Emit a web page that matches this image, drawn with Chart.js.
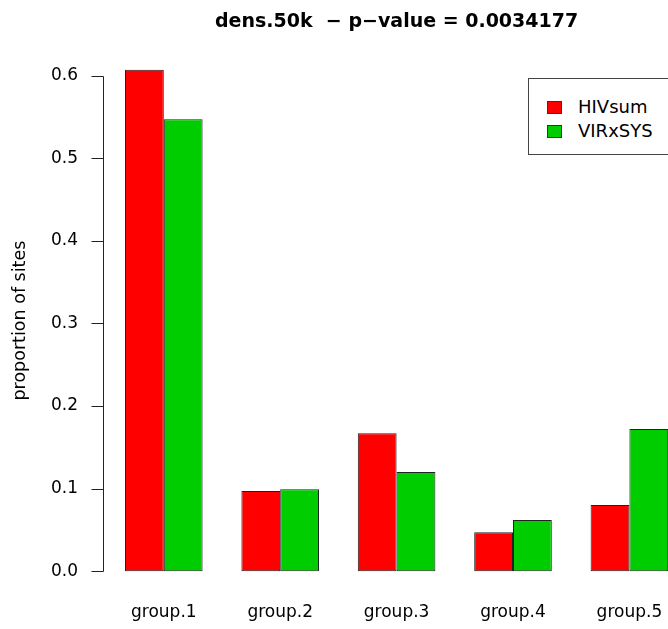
<!DOCTYPE html>
<html>
<head>
<meta charset="utf-8">
<script src="https://cdn.jsdelivr.net/npm/chart.js@4/dist/chart.umd.min.js"></script>
<style>
  html, body { margin: 0; padding: 0; background: #fff; overflow: hidden; }
  #wrap { position: relative; width: 700px; height: 629px; }
  #legend {
    position: absolute; left: 528px; top: 78px; width: 180px; height: 77px;
    border: 1px solid #444; box-sizing: border-box; background: #fff;
    font-family: "DejaVu Sans", sans-serif; font-size: 18px; color: #000;
  }
  #legend .row { position: absolute; left: 0; height: 24px; line-height: 24px; white-space: nowrap; }
  #legend .sw { position: absolute; left: 18px; top: 6px; width: 13px; height: 11px; border: 1px solid #333; }
  #legend .tx { position: absolute; left: 49px; top: 0; }
</style>
</head>
<body>
<div id="wrap">
  <canvas id="c"></canvas>
  <div id="legend"></div>
</div>
<script>
// ---- data ----
const categories = ['group.1', 'group.2', 'group.3', 'group.4', 'group.5'];
const seriesNames = ['HIVsum', 'VIRxSYS'];
const hivsum  = [0.607, 0.097, 0.167, 0.047, 0.080];
const virxsys = [0.547, 0.099, 0.120, 0.062, 0.172];
const yTickValues = [0.0, 0.1, 0.2, 0.3, 0.4, 0.5, 0.6];
const titleText = 'dens.50k  \u2212 p\u2212value = 0.0034177';
const yAxisTitle = 'proportion of sites';
const colors = ['#FF0000', '#00CD00'];

// ---- legend (HTML) ----
const leg = document.getElementById('legend');
seriesNames.forEach((name, i) => {
  const row = document.createElement('div');
  row.className = 'row';
  row.style.top = (16 + i * 24) + 'px';
  const sw = document.createElement('span');
  sw.className = 'sw';
  sw.style.background = colors[i];
  const tx = document.createElement('span');
  tx.className = 'tx';
  tx.textContent = name;
  row.appendChild(sw); row.appendChild(tx);
  leg.appendChild(row);
});

// ---- axis plugin (R-style y axis spanning the ticks only) ----
const rAxis = {
  id: 'rAxis',
  afterDraw(chart) {
    const ys = chart.scales.y;
    const ca = chart.chartArea;
    const unit = (ca.right - ca.left) / 15;
    const x0 = Math.round(ca.left - 0.06 * unit) + 0.5;
    const ctx = chart.ctx;
    ctx.save();
    ctx.strokeStyle = '#222';
    ctx.lineWidth = 1;
    ctx.beginPath();
    const yTop = Math.round(ys.getPixelForValue(yTickValues[yTickValues.length - 1])) + 0.5;
    const yBot = Math.round(ys.getPixelForValue(yTickValues[0])) + 0.5;
    ctx.moveTo(x0, yTop); ctx.lineTo(x0, yBot);
    yTickValues.forEach(v => {
      const yy = Math.round(ys.getPixelForValue(v)) + 0.5;
      ctx.moveTo(x0, yy); ctx.lineTo(x0 - 12, yy);
    });
    ctx.stroke();
    ctx.restore();
  }
};

const font = { family: '"DejaVu Sans", sans-serif' };

new Chart(document.getElementById('c'), {
  type: 'bar',
  data: {
    labels: categories,
    datasets: [
      { label: seriesNames[0], data: hivsum, backgroundColor: colors[0] },
      { label: seriesNames[1], data: virxsys, backgroundColor: colors[1] }
    ]
  },
  options: {
    responsive: true,
    maintainAspectRatio: false,
    animation: false,
    layout: { padding: { left: 0, right: 12.4, top: 0, bottom: 0 } },
    datasets: {
      bar: {
        categoryPercentage: 2 / 3,
        barPercentage: 1,
        borderWidth: 1,
        borderColor: '#222',
        borderSkipped: false
      }
    },
    plugins: {
      legend: { display: false },
      tooltip: { enabled: false },
      title: {
        display: true,
        text: titleText,
        fullSize: false,
        color: '#000',
        font: { family: font.family, size: 19, weight: 'bold', lineHeight: 1.2 },
        padding: { top: 10.5, bottom: 16.7 }
      }
    },
    scales: {
      x: {
        grid: { display: false, drawTicks: false },
        border: { display: false },
        ticks: { color: '#000', font: { family: font.family, size: 17 }, padding: 11, maxRotation: 0 },
        afterFit(s) { s.height = 34; }
      },
      y: {
        min: -0.0243,
        max: 0.631,
        grid: { display: false, drawTicks: false },
        border: { display: false },
        afterBuildTicks(s) { s.ticks = yTickValues.map(v => ({ value: v })); },
        ticks: {
          color: '#000',
          font: { family: font.family, size: 17 },
          padding: 27.6,
          callback: v => Number(v).toFixed(1)
        },
        title: {
          display: true,
          text: yAxisTitle,
          color: '#000',
          font: { family: font.family, size: 17.5, lineHeight: 1.2 },
          padding: { top: 9.5, bottom: 0 }
        },
        afterFit(s) { s.width = 105.6; }
      }
    }
  },
  plugins: [rAxis]
});
</script>
</body>
</html>
